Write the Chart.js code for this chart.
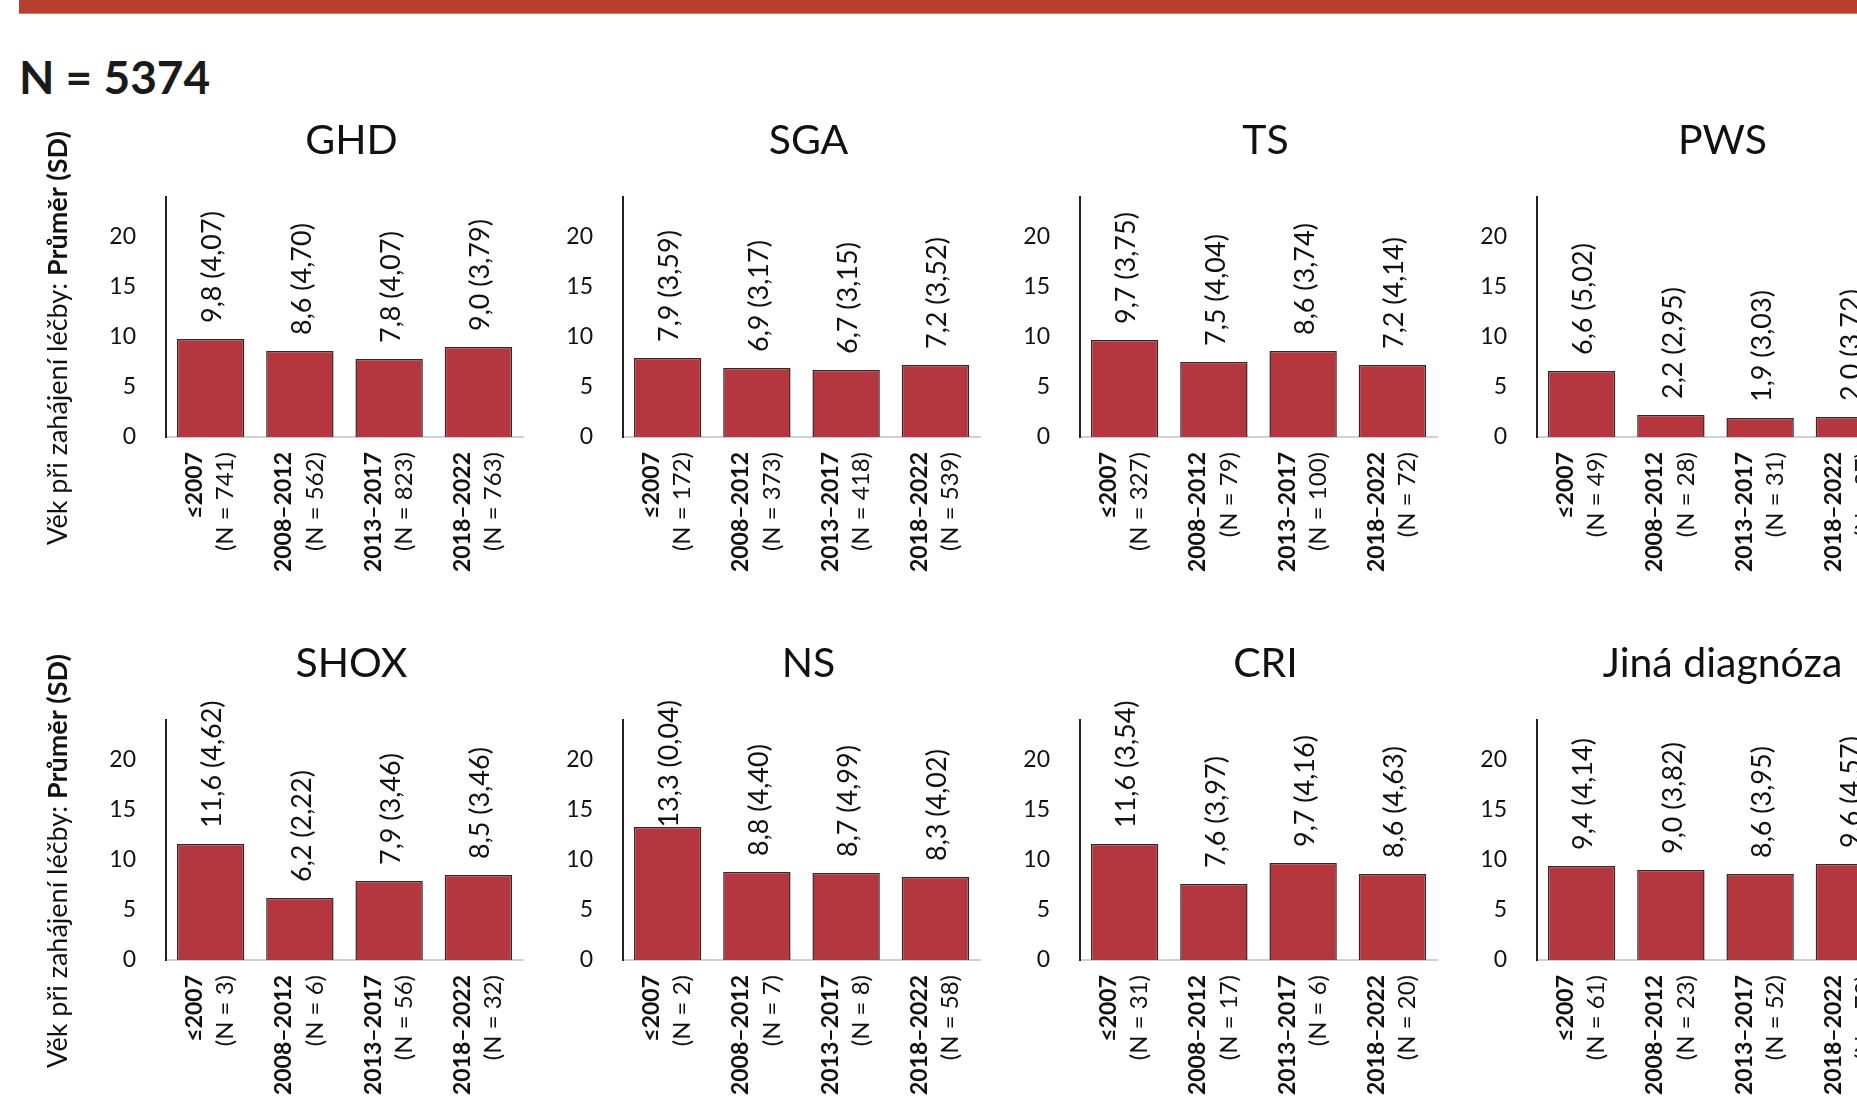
<!DOCTYPE html>
<html>
<head>
<meta charset="utf-8">
<script src="https://cdn.jsdelivr.net/npm/chart.js@4.4.1/dist/chart.umd.min.js"></script>
<style>
  html, body { margin: 0; padding: 0; background: #fff; }
  body { width: 1857px; height: 1116px; overflow: hidden; position: relative; font-family: Lato, "Open Sans", sans-serif; }
  #strip { position: absolute; left: 19px; top: 0; right: 0; height: 13px; background: #b83e2d; border-bottom: 1px solid #d8786c; }
  #total { position: absolute; left: 19px; top: 54px; font-weight: 700; font-size: 46px; line-height: 1; color: #1a1a1a; }
  canvas { position: absolute; }
</style>
</head>
<body>
<div id="strip"></div>
<div id="total">N = 5374</div>
<canvas id="c0" width="533" height="490" style="left:0px;top:97px"></canvas>
<canvas id="c1" width="533" height="490" style="left:457px;top:97px"></canvas>
<canvas id="c2" width="533" height="490" style="left:914px;top:97px"></canvas>
<canvas id="c3" width="533" height="490" style="left:1371px;top:97px"></canvas>
<canvas id="c4" width="533" height="490" style="left:0px;top:620px"></canvas>
<canvas id="c5" width="533" height="490" style="left:457px;top:620px"></canvas>
<canvas id="c6" width="533" height="490" style="left:914px;top:620px"></canvas>
<canvas id="c7" width="533" height="490" style="left:1371px;top:620px"></canvas>
<script>
const periods = ['≤2007', '2008–2012', '2013–2017', '2018–2022'];
const yTicks = [0, 5, 10, 15, 20];

// mean age at start of treatment, SD, patient counts per period
const ghdMean = [9.8, 8.6, 7.8, 9.0];
const ghdSd = [4.07, 4.70, 4.07, 3.79];
const ghdN = [741, 562, 823, 763];

const sgaMean = [7.9, 6.9, 6.7, 7.2];
const sgaSd = [3.59, 3.17, 3.15, 3.52];
const sgaN = [172, 373, 418, 539];

const tsMean = [9.7, 7.5, 8.6, 7.2];
const tsSd = [3.75, 4.04, 3.74, 4.14];
const tsN = [327, 79, 100, 72];

const pwsMean = [6.6, 2.2, 1.9, 2.0];
const pwsSd = [5.02, 2.95, 3.03, 3.72];
const pwsN = [49, 28, 31, 37];

const shoxMean = [11.6, 6.2, 7.9, 8.5];
const shoxSd = [4.62, 2.22, 3.46, 3.46];
const shoxN = [3, 6, 56, 32];

const nsMean = [13.3, 8.8, 8.7, 8.3];
const nsSd = [0.04, 4.40, 4.99, 4.02];
const nsN = [2, 7, 8, 58];

const criMean = [11.6, 7.6, 9.7, 8.6];
const criSd = [3.54, 3.97, 4.16, 4.63];
const criN = [31, 17, 6, 20];

const otherMean = [9.4, 9.0, 8.6, 9.6];
const otherSd = [4.14, 3.82, 3.95, 4.57];
const otherN = [61, 23, 52, 70];

const FONT = 'Lato, "Open Sans", sans-serif';
const fmt = (v, d) => v.toFixed(d).replace('.', ',');

function makeChart(id, title, mean, sd, n, yTitle) {
  const panel = {
    id: 'panel' + id,
    afterDatasetsDraw(chart) {
      const ctx = chart.ctx;
      const a = chart.chartArea;
      const xs = chart.scales.x;
      const meta = chart.getDatasetMeta(0);
      ctx.save();
      ctx.fillStyle = '#111';

      ctx.font = '41px ' + FONT;
      ctx.textAlign = 'center';
      ctx.textBaseline = 'alphabetic';
      ctx.fillText(title, (a.left + a.right) / 2 + 7, a.top - 43);

      ctx.font = '27px ' + FONT;
      meta.data.forEach((bar, i) => {
        const txt = fmt(mean[i], 1) + ' (' + fmt(sd[i], 2) + ')';
        const w = ctx.measureText(txt).width;
        let y = bar.y - 16;
        if (y - w < a.top - 20) y = a.top - 20 + w;
        ctx.save();
        ctx.translate(bar.x + 2, y);
        ctx.rotate(-Math.PI / 2);
        ctx.textAlign = 'left';
        ctx.textBaseline = 'middle';
        ctx.fillText(txt, 0, 0);
        ctx.restore();
      });

      periods.forEach((lab, i) => {
        const px = xs.getPixelForTick(i);
        ctx.save();
        ctx.translate(px, a.bottom + 15);
        ctx.rotate(-Math.PI / 2);
        ctx.textAlign = 'right';
        ctx.textBaseline = 'middle';
        ctx.font = 'bold 23px ' + FONT;
        ctx.fillText(lab, 0, -16);
        ctx.font = '24px ' + FONT;
        ctx.fillText('(N = ' + n[i] + ')', 0, 15);
        ctx.restore();
      });

      if (yTitle) {
        const t1 = 'Věk při zahájení léčby: ';
        const t2 = 'Průměr (SD)';
        ctx.font = '27px ' + FONT;
        const w1 = ctx.measureText(t1).width;
        ctx.font = 'bold 27px ' + FONT;
        const w2 = ctx.measureText(t2).width;
        ctx.translate(58, (a.top + a.bottom) / 2 + 21);
        ctx.rotate(-Math.PI / 2);
        ctx.textAlign = 'left';
        ctx.textBaseline = 'middle';
        const sx = -(w1 + w2) / 2;
        ctx.font = '27px ' + FONT;
        ctx.fillText(t1, sx, 0);
        ctx.font = 'bold 27px ' + FONT;
        ctx.fillText(t2, sx + w1, 0);
      }
      ctx.restore();
    }
  };

  new Chart(document.getElementById(id), {
    type: 'bar',
    data: {
      labels: periods,
      datasets: [{
        data: mean,
        backgroundColor: '#b43740',
        borderColor: '#3a2424',
        borderWidth: 1.5,
        barPercentage: 0.755,
        categoryPercentage: 1
      }]
    },
    options: {
      responsive: false,
      animation: false,
      devicePixelRatio: 1,
      layout: { padding: { top: 100, right: 10, left: 0, bottom: 0 } },
      plugins: { legend: { display: false }, tooltip: { enabled: false } },
      scales: {
        x: {
          grid: { display: false },
          border: { display: true, color: '#d0d0d0', width: 2 },
          ticks: { display: false },
          afterFit: s => { s.height = 150; }
        },
        y: {
          min: 0,
          max: 24,
          grid: { display: false },
          border: { display: true, color: '#222', width: 2 },
          ticks: { stepSize: 5, padding: 22, color: '#111', font: { family: FONT, size: 23 } },
          afterBuildTicks: s => { s.ticks = yTicks.map(v => ({ value: v })); },
          afterFit: s => { s.width = 166; }
        }
      }
    },
    plugins: [panel]
  });
}

makeChart('c0', 'GHD', ghdMean, ghdSd, ghdN, true);
makeChart('c1', 'SGA', sgaMean, sgaSd, sgaN, false);
makeChart('c2', 'TS', tsMean, tsSd, tsN, false);
makeChart('c3', 'PWS', pwsMean, pwsSd, pwsN, false);
makeChart('c4', 'SHOX', shoxMean, shoxSd, shoxN, true);
makeChart('c5', 'NS', nsMean, nsSd, nsN, false);
makeChart('c6', 'CRI', criMean, criSd, criN, false);
makeChart('c7', 'Jiná diagnóza', otherMean, otherSd, otherN, false);
</script>
</body>
</html>
